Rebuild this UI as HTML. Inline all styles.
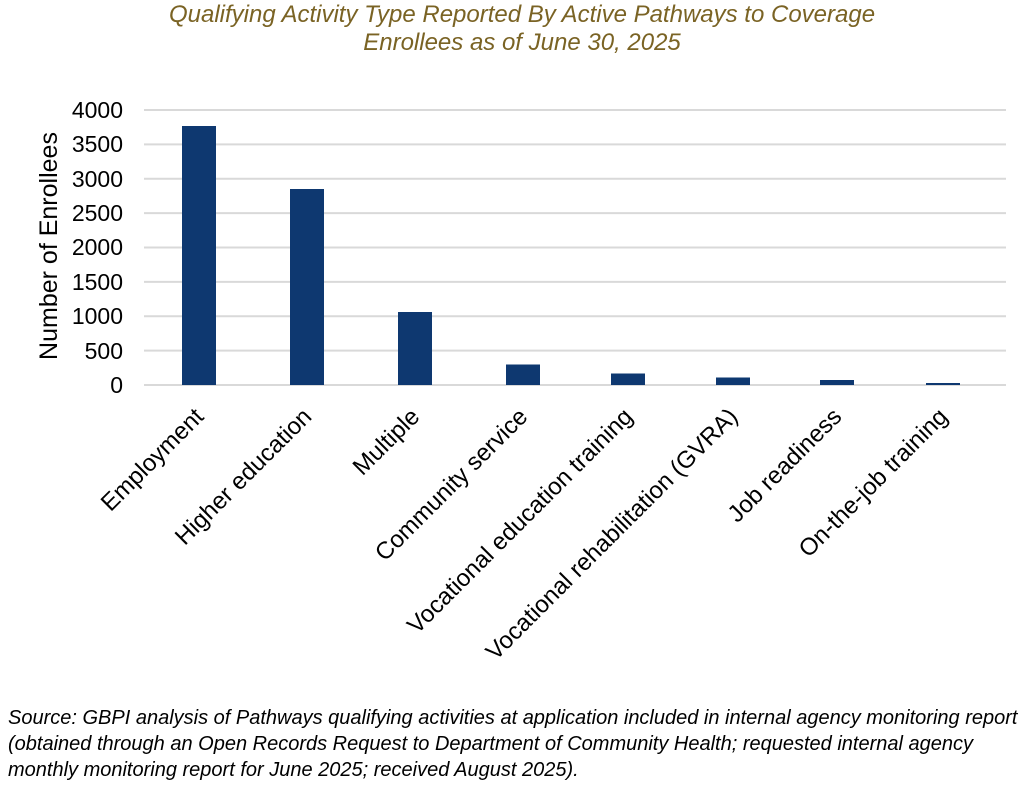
<!DOCTYPE html>
<html><head><meta charset="utf-8"><style>
body{margin:0;background:#fff;width:1024px;height:785px;overflow:hidden}
svg{display:block}
</style></head><body>
<svg width="1024" height="785" xmlns="http://www.w3.org/2000/svg" font-family="Liberation Sans, Arial, sans-serif">
<text x="522" y="22" text-anchor="middle" font-size="24" font-style="italic" fill="#7a6324">Qualifying Activity Type Reported By Active Pathways to Coverage</text>
<text x="522" y="50" text-anchor="middle" font-size="24" font-style="italic" fill="#7a6324">Enrollees as of June 30, 2025</text>
<g stroke="#d9d9d9" stroke-width="2">
<line x1="144" x2="1006" y1="110" y2="110"/><line x1="144" x2="1006" y1="144.4" y2="144.4"/>
<line x1="144" x2="1006" y1="178.8" y2="178.8"/><line x1="144" x2="1006" y1="213.1" y2="213.1"/>
<line x1="144" x2="1006" y1="247.5" y2="247.5"/><line x1="144" x2="1006" y1="281.9" y2="281.9"/>
<line x1="144" x2="1006" y1="316.3" y2="316.3"/><line x1="144" x2="1006" y1="350.6" y2="350.6"/>
<line x1="144" x2="1006" y1="385" y2="385"/>
</g>
<g font-size="23" fill="#000" text-anchor="end">
<text x="123" y="118">4000</text><text x="123" y="152">3500</text><text x="123" y="187">3000</text>
<text x="123" y="221">2500</text><text x="123" y="255">2000</text><text x="123" y="290">1500</text>
<text x="123" y="324">1000</text><text x="123" y="359">500</text><text x="123" y="393">0</text>
</g>
<text transform="translate(57,246) rotate(-90)" text-anchor="middle" font-size="25">Number of Enrollees</text>
<g fill="#0e3870">
<rect x="182" y="126" width="34" height="259"/>
<rect x="290" y="189" width="34" height="196"/>
<rect x="398" y="312" width="34" height="73"/>
<rect x="506" y="364.5" width="34" height="20.5"/>
<rect x="611" y="373.5" width="34" height="11.5"/>
<rect x="716" y="377.5" width="34" height="7.5"/>
<rect x="820" y="380" width="34" height="5"/>
<rect x="926" y="383" width="34" height="2"/>
</g>
<g font-size="24" text-anchor="end">
<text transform="translate(205,418) rotate(-45)">Employment</text>
<text transform="translate(313,418) rotate(-45)">Higher education</text>
<text transform="translate(421,418) rotate(-45)">Multiple</text>
<text transform="translate(529,418) rotate(-45)">Community service</text>
<text transform="translate(634,418) rotate(-45)">Vocational education training</text>
<text transform="translate(739,418) rotate(-45)">Vocational rehabilitation (GVRA)</text>
<text transform="translate(843,418) rotate(-45)">Job readiness</text>
<text transform="translate(949,418) rotate(-45)">On-the-job training</text>
</g>
<g font-size="20" font-style="italic">
<text x="8" y="724">Source: GBPI analysis of Pathways qualifying activities at application included in internal agency monitoring report</text>
<text x="8" y="750">(obtained through an Open Records Request to Department of Community Health; requested internal agency</text>
<text x="8" y="776">monthly monitoring report for June 2025; received August 2025).</text>
</g>
</svg>
</body></html>
